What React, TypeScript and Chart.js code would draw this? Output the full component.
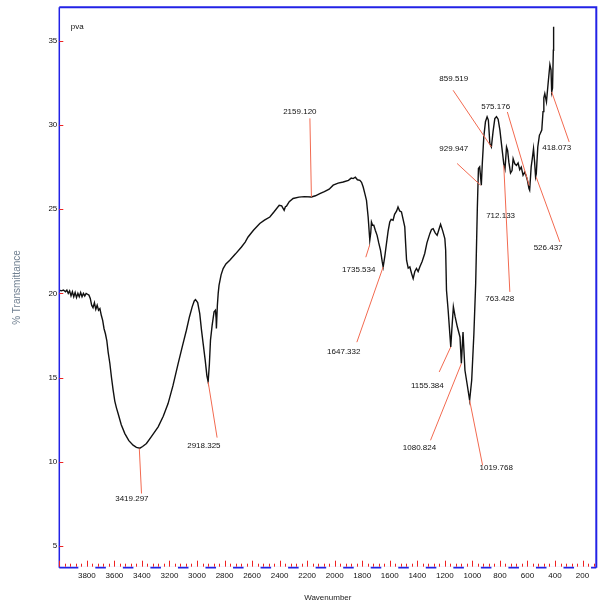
import React, { useEffect, useRef } from "react";
import { Chart, registerables } from "chart.js";

Chart.register(...registerables);

// ---------- data ----------
const wavenumbers = [
  4000, 3985, 3970, 3955, 3945, 3935, 3925, 3915, 3905, 3895, 3885, 3875, 3865, 3855, 3845, 3835, 3825, 3815, 3805, 3795,
  3785, 3775, 3765, 3755, 3745, 3735, 3725, 3715, 3705, 3695, 3685, 3675, 3665, 3655, 3645, 3633, 3621, 3609, 3597, 3585,
  3573, 3550, 3524, 3495, 3464, 3440, 3415, 3395, 3367, 3330, 3282, 3245, 3210, 3175, 3137, 3105, 3077, 3055, 3035, 3020,
  3011, 2995, 2980, 2967, 2955, 2940, 2928, 2919, 2910, 2902, 2890, 2876, 2866, 2861, 2859, 2852, 2846, 2840, 2825, 2810,
  2790, 2762, 2720, 2677, 2650, 2629, 2590, 2544, 2510, 2471, 2440, 2403, 2385, 2367, 2358, 2350, 2330, 2302, 2260, 2220,
  2169, 2140, 2108, 2075, 2040, 2011, 1975, 1938, 1900, 1880, 1866, 1850, 1835, 1817, 1805, 1793, 1780, 1769, 1757, 1745,
  1738, 1733, 1725, 1716, 1705, 1692, 1680, 1667, 1655, 1648, 1636, 1624, 1612, 1600, 1590, 1576, 1565, 1550, 1540, 1528,
  1515, 1503, 1491, 1485, 1478, 1466, 1454, 1442, 1430, 1418, 1406, 1394, 1382, 1365, 1346, 1330, 1309, 1297, 1285, 1270,
  1256, 1243, 1231, 1215, 1200, 1194, 1188, 1176, 1157, 1148, 1138, 1125, 1109, 1090, 1080, 1068, 1054, 1038, 1020, 1005,
  989, 976, 964, 956, 947, 935, 928, 917, 905, 893, 884, 873, 862, 850, 837, 825, 813, 800, 789, 772,
  763, 752, 744, 735, 723, 712, 704, 692, 680, 668, 656, 645, 632, 620, 610, 600, 589, 584, 573, 565,
  556, 548, 541, 536, 525, 513, 507, 496, 487, 481, 474, 462, 450, 437, 429, 424, 418, 412, 410,
];

const transmittance = [
  20.2, 20.15, 20.2, 20.1, 20.2, 20.0, 20.15, 19.85, 20.1, 19.8, 20.05, 19.75, 20.0, 19.8, 20.05, 19.8, 20.0, 19.85, 20.0, 19.95,
  19.9, 19.7, 19.3, 19.15, 19.45, 19.05, 19.3, 19.0, 19.1, 18.7, 18.4, 17.9, 17.6, 17.2, 16.5, 15.85, 15.0, 14.25, 13.6, 13.2,
  12.86, 12.2, 11.67, 11.25, 10.98, 10.85, 10.8, 10.9, 11.08, 11.5, 12.07, 12.7, 13.45, 14.5, 15.83, 16.9, 17.81, 18.6, 19.2, 19.55,
  19.63, 19.45, 18.8, 17.8, 17.0, 16.0, 15.1, 14.74, 15.8, 17.22, 18.1, 18.9, 19.0, 18.5, 17.91, 19.3, 20.0, 20.48, 21.1, 21.47,
  21.75, 21.97, 22.35, 22.76, 23.05, 23.35, 23.75, 24.15, 24.35, 24.54, 24.85, 25.24, 25.2, 24.94, 25.15, 25.18, 25.45, 25.64, 25.72, 25.75,
  25.73, 25.8, 25.93, 26.05, 26.19, 26.43, 26.55, 26.62, 26.72, 26.85, 26.82, 26.9, 26.75, 26.72, 26.6, 26.32, 25.9, 25.53, 24.54, 23.16,
  23.6, 24.24, 24.05, 24.05, 23.75, 23.45, 23.0, 22.56, 21.9, 21.57, 22.2, 22.96, 23.7, 24.24, 24.4, 24.35, 24.7, 24.9, 25.14, 24.9,
  24.84, 24.4, 23.95, 23.0, 21.97, 21.5, 21.57, 21.2, 20.88, 21.3, 21.48, 21.3, 21.57, 21.9, 22.37, 23.0, 23.55, 23.8, 23.85, 23.6,
  23.45, 23.8, 24.11, 23.7, 23.26, 22.56, 20.19, 19.0, 16.82, 18.0, 19.2, 18.6, 18.0, 17.41, 15.83, 17.71, 15.43, 14.6, 13.65, 14.84,
  17.6, 20.59, 25.06, 27.42, 27.52, 26.43, 27.72, 29.3, 30.2, 30.49, 30.3, 28.9, 28.7, 29.6, 30.39, 30.5, 30.35, 29.7, 28.9, 27.7,
  27.4, 28.7, 28.5, 27.8, 27.15, 27.3, 28.0, 27.7, 27.61, 27.75, 27.35, 27.5, 27.02, 27.2, 27.0, 26.7, 26.23, 26.13, 27.52, 28.0,
  28.6, 27.8, 26.92, 27.1, 28.7, 29.4, 29.5, 29.7, 30.8, 31.62, 31.87, 31.38, 32.47, 33.6, 33.3, 31.97, 32.2, 34.45, 35.85,
];

// tick labels
const xTickValues = [3800, 3600, 3400, 3200, 3000, 2800, 2600, 2400, 2200, 2000, 1800, 1600, 1400, 1200, 1000, 800, 600, 400, 200];
const yTickValues = [5, 10, 15, 20, 25, 30, 35];

// peak annotations (data coordinates)
const peakLabels = [
  "3419.297", "2918.325", "2159.120", "1735.534", "1647.332", "1155.384", "1080.824", "1019.768",
  "929.947", "859.519", "575.176", "712.133", "763.428", "526.437", "418.073",
];
const leaderFromX = [3419, 2919, 2169, 1745, 1648, 1157, 1080, 1020, 941, 862, 587, 712, 772, 536, 424];
const leaderFromY = [10.78, 14.74, 25.73, 22.9, 21.57, 16.82, 15.83, 13.65, 26.43, 28.7, 26.4, 27.15, 27.6, 26.9, 31.97];
const leaderToX = [3403, 2854, 2180, 1774, 1839, 1241, 1304, 926, 1111, 1140, 746, 712, 728, 365, 297];
const leaderToY = [8.11, 11.43, 30.4, 22.15, 17.1, 15.33, 11.27, 9.79, 27.72, 32.07, 30.78, 27.15, 20.09, 23.06, 29.0];
const labelX = [3473, 2950, 2253, 1825, 1934, 1327, 1384, 827, 1135, 1135, 831, 795, 801, 450, 387];
const labelY = [7.77, 10.97, 30.78, 21.4, 16.5, 14.5, 10.82, 9.65, 28.6, 32.77, 31.08, 24.64, 19.65, 22.7, 28.64];

const sampleName = "pva";
const sampleNameX = 3916;
const sampleNameY = 35.83;

const X_MIN = 100;
const X_MAX = 4000;
const Y_MIN = 3.7;
const Y_MAX = 37;
const X_LABEL_STEP = 200;
const X_MINOR_STEP = 40;

const NARROW = "'Liberation Sans Narrow', 'Arial Narrow', 'Liberation Sans', Arial, sans-serif";
const SANS = "'Liberation Sans', Arial, sans-serif";
const BLUE = "#2222e6";
const RED = "#ee2222";
const LEADER = "#f26a50";

const decorPlugin = {
  id: "irDecor",
  afterDraw(chart: any) {
    const { ctx, chartArea, scales } = chart;
    const { left, right, top, bottom } = chartArea;
    const x = scales.x;
    const y = scales.y;
    ctx.save();

    // leader lines
    ctx.strokeStyle = LEADER;
    ctx.lineWidth = 1;
    for (let i = 0; i < peakLabels.length; i++) {
      const x0 = x.getPixelForValue(leaderFromX[i]);
      const y0 = y.getPixelForValue(leaderFromY[i]);
      const x1 = x.getPixelForValue(leaderToX[i]);
      const y1 = y.getPixelForValue(leaderToY[i]);
      if (Math.abs(x0 - x1) + Math.abs(y0 - y1) < 1) continue;
      ctx.beginPath();
      ctx.moveTo(x0, y0);
      ctx.lineTo(x1, y1);
      ctx.stroke();
    }
    // labels
    ctx.fillStyle = "#111";
    ctx.font = `8px ${NARROW}`;
    ctx.textAlign = "center";
    ctx.textBaseline = "middle";
    for (let i = 0; i < peakLabels.length; i++) {
      ctx.fillText(peakLabels[i], x.getPixelForValue(labelX[i]), y.getPixelForValue(labelY[i]));
    }
    ctx.textAlign = "left";
    ctx.fillText(sampleName, x.getPixelForValue(sampleNameX), y.getPixelForValue(sampleNameY));

    // frame
    ctx.strokeStyle = BLUE;
    ctx.lineWidth = 1.5;
    ctx.beginPath();
    ctx.moveTo(left, top);
    ctx.lineTo(left, bottom);
    ctx.stroke();
    ctx.lineWidth = 2;
    ctx.beginPath();
    ctx.moveTo(left, top);
    ctx.lineTo(right, top);
    ctx.lineTo(right, bottom);
    ctx.stroke();
    ctx.lineWidth = 1.8;
    ctx.beginPath();
    ctx.moveTo(left, bottom);
    ctx.lineTo(right, bottom);
    ctx.stroke();
    // gaps in the bottom line under the labels
    ctx.fillStyle = "#ffffff";
    x.ticks.forEach((t: any) => {
      const px = x.getPixelForValue(t.value);
      ctx.fillRect(px - 8.5, bottom - 1.5, 17, 3);
    });

    // red tick marks
    ctx.strokeStyle = RED;
    ctx.lineWidth = 1;
    for (let w = Math.ceil(X_MIN / X_MINOR_STEP) * X_MINOR_STEP; w <= X_MAX; w += X_MINOR_STEP) {
      const px = Math.round(x.getPixelForValue(w)) + 0.5;
      const len = w % X_LABEL_STEP === 0 ? 6 : 3;
      ctx.beginPath();
      ctx.moveTo(px, bottom - 1);
      ctx.lineTo(px, bottom - 1 - len);
      ctx.stroke();
    }
    y.ticks.forEach((t: any) => {
      const py = Math.round(y.getPixelForValue(t.value)) + 0.5;
      ctx.beginPath();
      ctx.moveTo(left, py);
      ctx.lineTo(left + 4, py);
      ctx.stroke();
    });
    ctx.restore();
  },
};

export default function App() {
  const canvasRef = useRef<HTMLCanvasElement | null>(null);

  useEffect(() => {
    const canvas = canvasRef.current;
    if (!canvas) return;
    const points = wavenumbers.map((w, i) => ({ x: w, y: transmittance[i] }));
    const chart = new Chart(canvas, {
      type: "line",
      data: {
        datasets: [
          {
            data: points,
            borderColor: "#111111",
            borderWidth: 1.4,
            pointRadius: 0,
            tension: 0,
            fill: false,
          },
        ],
      },
      options: {
        animation: false,
        responsive: false,
        maintainAspectRatio: false,
        devicePixelRatio: 1,
        layout: { padding: { top: 7.3, right: 1.7, left: 0, bottom: 0 } },
        plugins: { legend: { display: false }, tooltip: { enabled: false } },
        scales: {
          x: {
            type: "linear",
            reverse: true,
            min: X_MIN,
            max: X_MAX,
            grid: { display: false, drawTicks: false },
            border: { display: false },
            ticks: {
              autoSkip: false,
              maxRotation: 0,
              minRotation: 0,
              padding: 3,
              color: "#111",
              font: { family: NARROW, size: 8 },
              callback: (v: any) => String(v),
            },
            afterBuildTicks: (s: any) => {
              s.ticks = xTickValues.map((v) => ({ value: v }));
            },
            afterFit: (s: any) => {
              s.height = 40.3;
            },
            title: {
              display: true,
              text: "Wavenumber",
              color: "#222",
              font: { family: NARROW, size: 8 },
              padding: { top: 0, bottom: 5.2 },
            },
          },
          y: {
            type: "linear",
            min: Y_MIN,
            max: Y_MAX,
            grid: { display: false, drawTicks: false },
            border: { display: false },
            ticks: {
              autoSkip: false,
              padding: 2,
              color: "#111",
              font: { family: NARROW, size: 8 },
              callback: (v: any) => String(v),
            },
            afterBuildTicks: (s: any) => {
              s.ticks = yTickValues.map((v) => ({ value: v }));
            },
            afterFit: (s: any) => {
              s.width = 59.3;
            },
            title: {
              display: true,
              text: "% Transmittance",
              color: "#6f7f90",
              font: { family: SANS, size: 10 },
              padding: { top: 11.5, bottom: 0 },
            },
          },
        },
      },
      plugins: [decorPlugin],
    });
    return () => chart.destroy();
  }, []);

  return (
    <div style={{ position: "fixed", left: 0, top: 0, width: 598, height: 608, background: "#fff" }}>
      <canvas ref={canvasRef} width={598} height={608} style={{ display: "block", width: 598, height: 608 }} />
    </div>
  );
}
